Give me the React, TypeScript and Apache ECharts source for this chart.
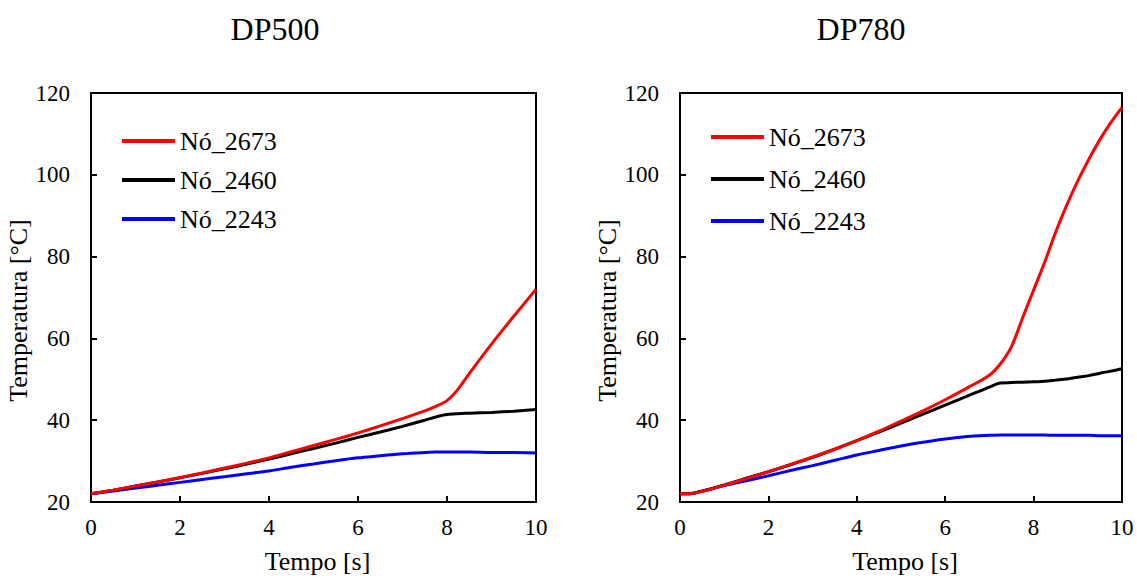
import React, { useEffect, useRef } from "react";
import * as echarts from "echarts";

const FONT = '"Liberation Serif", "Times New Roman", Times, serif';

const titles = ["DP500", "DP780"];
const seriesNames = ["Nó_2673", "Nó_2460", "Nó_2243"];
const seriesColors = ["#ff0000", "#000000", "#0000ff"];
const xTitle = "Tempo [s]";
const yTitle = "Temperatura [°C]";

// DP500 (left panel)
const timeDP500 = [0, 0.5, 1, 1.5, 2, 2.5, 3, 3.5, 4, 4.5, 5, 5.5, 6, 6.5, 7, 7.5, 7.75, 8, 8.25, 8.5, 9, 9.5, 10];
const dp500_2673 = [22, 22.9, 23.9, 24.9, 26.0, 27.1, 28.3, 29.5, 30.8, 32.3, 33.8, 35.3, 36.9, 38.6, 40.4, 42.3, 43.4, 44.8, 47.6, 51.4, 58.6, 65.4, 72.0];
const dp500_2460 = [22, 22.9, 23.9, 24.9, 25.9, 27.0, 28.1, 29.3, 30.5, 31.8, 33.1, 34.4, 35.8, 37.1, 38.5, 40.0, 40.8, 41.4, 41.6, 41.7, 41.9, 42.2, 42.6];
const dp500_2243 = [22, 22.7, 23.4, 24.1, 24.8, 25.5, 26.2, 26.9, 27.6, 28.5, 29.3, 30.1, 30.8, 31.3, 31.8, 32.1, 32.2, 32.2, 32.2, 32.2, 32.1, 32.1, 32.0];

// DP780 (right panel)
const timeDP780 = [0, 0.25, 0.5, 1, 1.5, 2, 2.5, 3, 3.5, 4, 4.5, 5, 5.5, 6, 6.5, 7, 7.25, 7.5, 7.75, 8, 8.25, 8.5, 8.75, 9, 9.25, 9.5, 9.75, 10];
const dp780_2673 = [22, 22.1, 22.6, 24.1, 25.7, 27.4, 29.2, 31.0, 32.9, 35.0, 37.3, 39.8, 42.3, 45.0, 47.9, 51.0, 53.8, 58.0, 65.0, 71.8, 78.6, 86.0, 92.6, 98.5, 103.8, 108.6, 112.8, 116.5];
const dp780_2460 = [22, 22.1, 22.7, 24.2, 25.8, 27.4, 29.1, 30.9, 32.9, 35.0, 37.1, 39.3, 41.5, 43.7, 45.9, 48.1, 49.1, 49.2, 49.3, 49.4, 49.5, 49.8, 50.1, 50.5, 50.9, 51.5, 52.0, 52.6];
const dp780_2243 = [22, 22.0, 22.6, 24.0, 25.2, 26.4, 27.7, 28.9, 30.2, 31.5, 32.6, 33.7, 34.6, 35.4, 36.0, 36.3, 36.4, 36.4, 36.4, 36.4, 36.4, 36.3, 36.3, 36.3, 36.3, 36.2, 36.2, 36.2];

const panels = [
  { time: timeDP500, values: [dp500_2673, dp500_2460, dp500_2243] },
  { time: timeDP780, values: [dp780_2673, dp780_2460, dp780_2243] },
];

const xMin = 0, xMax = 10, xStep = 2;
const yMin = 20, yMax = 120, yStep = 20;

export default function App() {
  const ref = useRef<HTMLDivElement>(null);

  useEffect(() => {
    if (!ref.current) return;
    const chart = echarts.init(ref.current, undefined, { renderer: "svg" });

    const grids = [
      { left: 91, top: 93, width: 445, height: 410 },
      { left: 680, top: 93, width: 442, height: 410 },
    ].map((g) => ({ ...g, show: true, borderColor: "#000", borderWidth: 2, backgroundColor: "transparent" }));

    const xAxis = [0, 1].map((i) => ({
      type: "value",
      gridIndex: i,
      min: xMin,
      max: xMax,
      interval: xStep,
      axisLine: { show: true, onZero: false, lineStyle: { color: "#000", width: 2 } },
      axisTick: { show: true, inside: true, length: 6, lineStyle: { color: "#000", width: 2 } },
      axisLabel: { color: "#000", fontSize: 23, fontFamily: FONT, margin: 14, showMinLabel: true, showMaxLabel: true },
      splitLine: { show: false },
      name: xTitle,
      nameLocation: "middle",
      nameGap: 46,
      nameTextStyle: { color: "#000", fontSize: 26, fontFamily: FONT, padding: [0, 0, 0, 8] },
    }));

    const yAxis = [0, 1].map((i) => ({
      type: "value",
      gridIndex: i,
      min: yMin,
      max: yMax,
      interval: yStep,
      axisLine: { show: true, onZero: false, lineStyle: { color: "#000", width: 2 } },
      axisTick: { show: true, inside: true, length: 6, lineStyle: { color: "#000", width: 2 } },
      axisLabel: { color: "#000", fontSize: 23, fontFamily: FONT, margin: 21, showMinLabel: true, showMaxLabel: true },
      splitLine: { show: false },
      name: yTitle,
      nameLocation: "middle",
      nameGap: 56,
      nameTextStyle: { color: "#000", fontSize: 26, fontFamily: FONT, padding: [0, 26, 0, 0] },
    }));

    const series: any[] = [];
    panels.forEach((p, pi) => {
      p.values.forEach((vals, si) => {
        series.push({
          type: "line",
          name: seriesNames[si],
          xAxisIndex: pi,
          yAxisIndex: pi,
          data: p.time.map((t, k) => [t, vals[k]]),
          showSymbol: false,
          symbol: "none",
          smooth: 0.3,
          lineStyle: { color: seriesColors[si], width: 3 },
          itemStyle: { color: seriesColors[si] },
          z: 3 - si,
        });
      });
    });

    const legendBase = {
      orient: "vertical",
      icon: "rect",
      itemWidth: 53,
      itemHeight: 4,
      padding: 0,
      selectedMode: false,
      data: seriesNames,
      textStyle: { color: "#000", fontSize: 26, fontFamily: FONT },
    };

    const option: any = {
      animation: false,
      textStyle: { fontFamily: FONT },
      grid: grids,
      xAxis,
      yAxis,
      series,
      legend: [
        { ...legendBase, left: 122, top: 128, itemGap: 13 },
        { ...legendBase, left: 711, top: 124, itemGap: 16 },
      ],
      graphic: [
        { type: "text", x: 275, y: 29, style: { text: titles[0], fontSize: 32, fontFamily: FONT, fill: "#000", textAlign: "center", textVerticalAlign: "middle" } },
        { type: "text", x: 861, y: 29, style: { text: titles[1], fontSize: 32, fontFamily: FONT, fill: "#000", textAlign: "center", textVerticalAlign: "middle" } },
      ],
    };

    chart.setOption(option);
    return () => chart.dispose();
  }, []);

  return (
    <div
      ref={ref}
      style={{ position: "fixed", left: 0, top: 0, width: 1137, height: 579, background: "#fff" }}
    />
  );
}
